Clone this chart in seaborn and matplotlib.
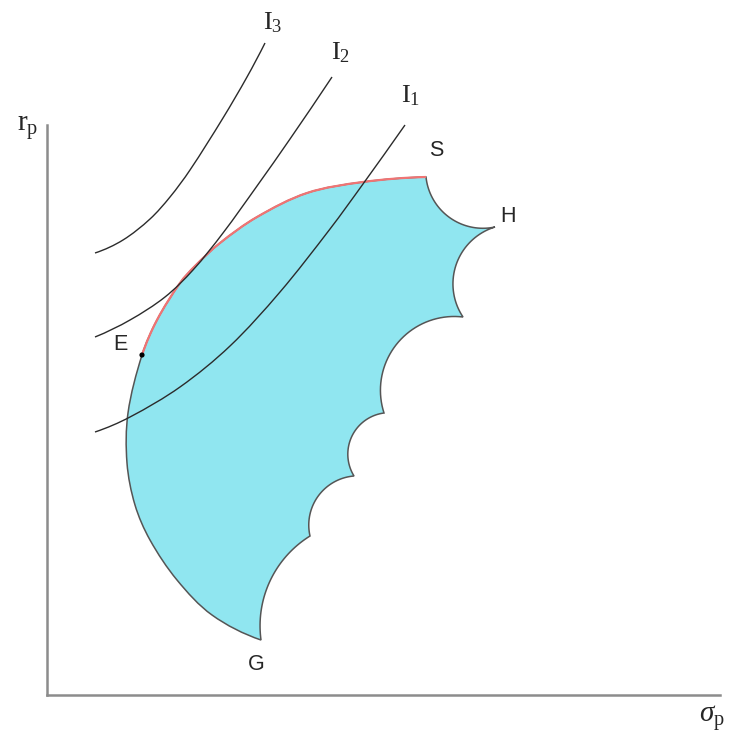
## Feasible set, efficient frontier and indifference curves
import numpy as np
import matplotlib
matplotlib.use("Agg")
import matplotlib.pyplot as plt
from matplotlib.path import Path
from matplotlib.patches import PathPatch
import seaborn as sns

# left / upper boundary of the feasible set, from G up to S (E is index 7)
edge_x = [214, 165, 130, 103, 88, 80, 81, 95, 110, 133, 148, 173, 210, 260, 316, 379]
edge_y = [55, 80, 115, 155, 190, 232, 282, 340, 375, 412, 429, 452, 478, 502, 513, 518]
e_idx = 7

# cusps of the right boundary: S, H, ..., G and depth of each scallop between them
cusp_x = [379, 448, 416, 337, 307, 263, 214]
cusp_y = [518, 468, 378, 282, 219, 159, 55]
scallop_depth = [19, 24, 34, 19, 17, 17]

# indifference curves
i1_x = [48, 83, 133, 183, 233, 283, 316, 358]
i1_y = [263, 278, 308, 349, 403, 466, 511, 570]
i2_x = [48, 83, 118, 146, 176, 210, 243, 285]
i2_y = [358, 375, 398, 425, 462, 509, 556, 618]
i3_x = [48, 76, 103, 123, 143, 176, 200, 218]
i3_y = [442, 455, 476, 498, 525, 577, 618, 652]

point_labels = ["S", "H", "E", "G"]
point_label_x = [389, 461, 73, 209]
point_label_y = [545, 478, 350, 30]
curve_labels = [r"$\mathrm{I}_{1}$", r"$\mathrm{I}_{2}$", r"$\mathrm{I}_{3}$"]
curve_label_x = [364, 294, 226]
curve_label_y = [600, 643, 673]


def bezier_verts(xs, ys):
    # chordal catmull-rom through the points, as cubic bezier pieces
    pts = np.column_stack([xs, ys]).astype(float)
    seg = np.hypot(*np.diff(pts, axis=0).T)
    t = np.concatenate([[0], np.cumsum(seg)])
    m = np.zeros_like(pts)
    m[1:-1] = (pts[2:] - pts[:-2]) / (t[2:] - t[:-2])[:, None]
    m[0] = 2 * (pts[1] - pts[0]) / seg[0] - m[1]
    m[-1] = 2 * (pts[-1] - pts[-2]) / seg[-1] - m[-2]
    verts = []
    for i in range(len(pts) - 1):
        h = seg[i]
        verts += [pts[i] + m[i] * h / 3, pts[i + 1] - m[i + 1] * h / 3, pts[i + 1]]
    return verts


def smooth_path(xs, ys):
    verts = [(xs[0], ys[0])] + bezier_verts(xs, ys)
    codes = [Path.MOVETO] + [Path.CURVE4] * (len(verts) - 1)
    return Path(verts, codes)


def scallop(p0, p1, depth, n=40):
    p0, p1 = np.asarray(p0, float), np.asarray(p1, float)
    d = p1 - p0
    half = np.hypot(*d) / 2
    nrm = np.array([d[1], -d[0]]) / (2 * half)
    r = (half ** 2 + depth ** 2) / (2 * depth)
    mid = (p0 + p1) / 2
    c = mid + (depth - r) * nrm
    ang = lambda p: np.arctan2(p[1] - c[1], p[0] - c[0])
    a0, a1, am = ang(p0), ang(p1), ang(mid + depth * nrm)
    d1 = (a1 - a0) % (2 * np.pi)
    dm = (am - a0) % (2 * np.pi)
    sweep = d1 if dm < d1 else d1 - 2 * np.pi
    t = a0 + sweep * np.linspace(0, 1, n)
    return np.column_stack([c[0] + r * np.cos(t), c[1] + r * np.sin(t)])


sns.set_style("white")
plt.rcParams["mathtext.fontset"] = "custom"
plt.rcParams["mathtext.rm"] = "Liberation Serif"
plt.rcParams["mathtext.it"] = "Liberation Serif:italic"

fig = plt.figure(figsize=(7.35, 7.34), dpi=100)
ax = fig.add_axes([0, 0, 1, 1])
ax.set_xlim(-47, 688)
ax.set_ylim(-39, 695)

# outline of the feasible set
right = [np.array([cusp_x[0], cusp_y[0]], float)]
for k, dep in enumerate(scallop_depth):
    arc = scallop((cusp_x[k], cusp_y[k]), (cusp_x[k + 1], cusp_y[k + 1]), dep)
    right += list(arc[1:])
left = bezier_verts(edge_x, edge_y)
verts = right + left + [right[0]]
codes = ([Path.MOVETO] + [Path.LINETO] * (len(right) - 1)
         + [Path.CURVE4] * len(left) + [Path.CLOSEPOLY])
region = Path(verts, codes)
ax.add_patch(PathPatch(region, facecolor="#90e6f0", edgecolor="#555555", lw=1.1, zorder=1))

# efficient frontier E -> S
ax.add_patch(PathPatch(smooth_path(edge_x[e_idx:], edge_y[e_idx:]),
                       facecolor="none", edgecolor="#f07474", lw=1.6, zorder=2))

for xs, ys in [(i1_x, i1_y), (i2_x, i2_y), (i3_x, i3_y)]:
    ax.add_patch(PathPatch(smooth_path(xs, ys), facecolor="none",
                           edgecolor="#2b2b2b", lw=1.0, zorder=3))

sns.scatterplot(x=[edge_x[e_idx]], y=[edge_y[e_idx]], color="black", s=14,
                edgecolor="none", zorder=4, ax=ax)

for lab, x, y in zip(point_labels, point_label_x, point_label_y):
    ax.text(x, y, lab, fontsize=15.5, family="Liberation Sans", ha="center", va="center")
for lab, x, y in zip(curve_labels, curve_label_x, curve_label_y):
    ax.text(x, y, lab, fontsize=19, ha="center", va="center")

ax.text(-19, 567, r"$\mathrm{r}_{\mathrm{p}}$", fontsize=21, ha="center", va="center")
ax.text(665, -23, r"$\sigma_{\mathrm{p}}$", fontsize=21, ha="center", va="center")

for side in ["top", "right"]:
    ax.spines[side].set_visible(False)
ax.spines["left"].set_position(("data", 0))
ax.spines["bottom"].set_position(("data", 0))
ax.spines["left"].set_bounds(0, 570)
ax.spines["bottom"].set_bounds(0, 673)
for side in ["left", "bottom"]:
    ax.spines[side].set_color("#8c8c8c")
    ax.spines[side].set_linewidth(1.8)
ax.set_xticks([])
ax.set_yticks([])

plt.savefig("out.png", dpi=100)
